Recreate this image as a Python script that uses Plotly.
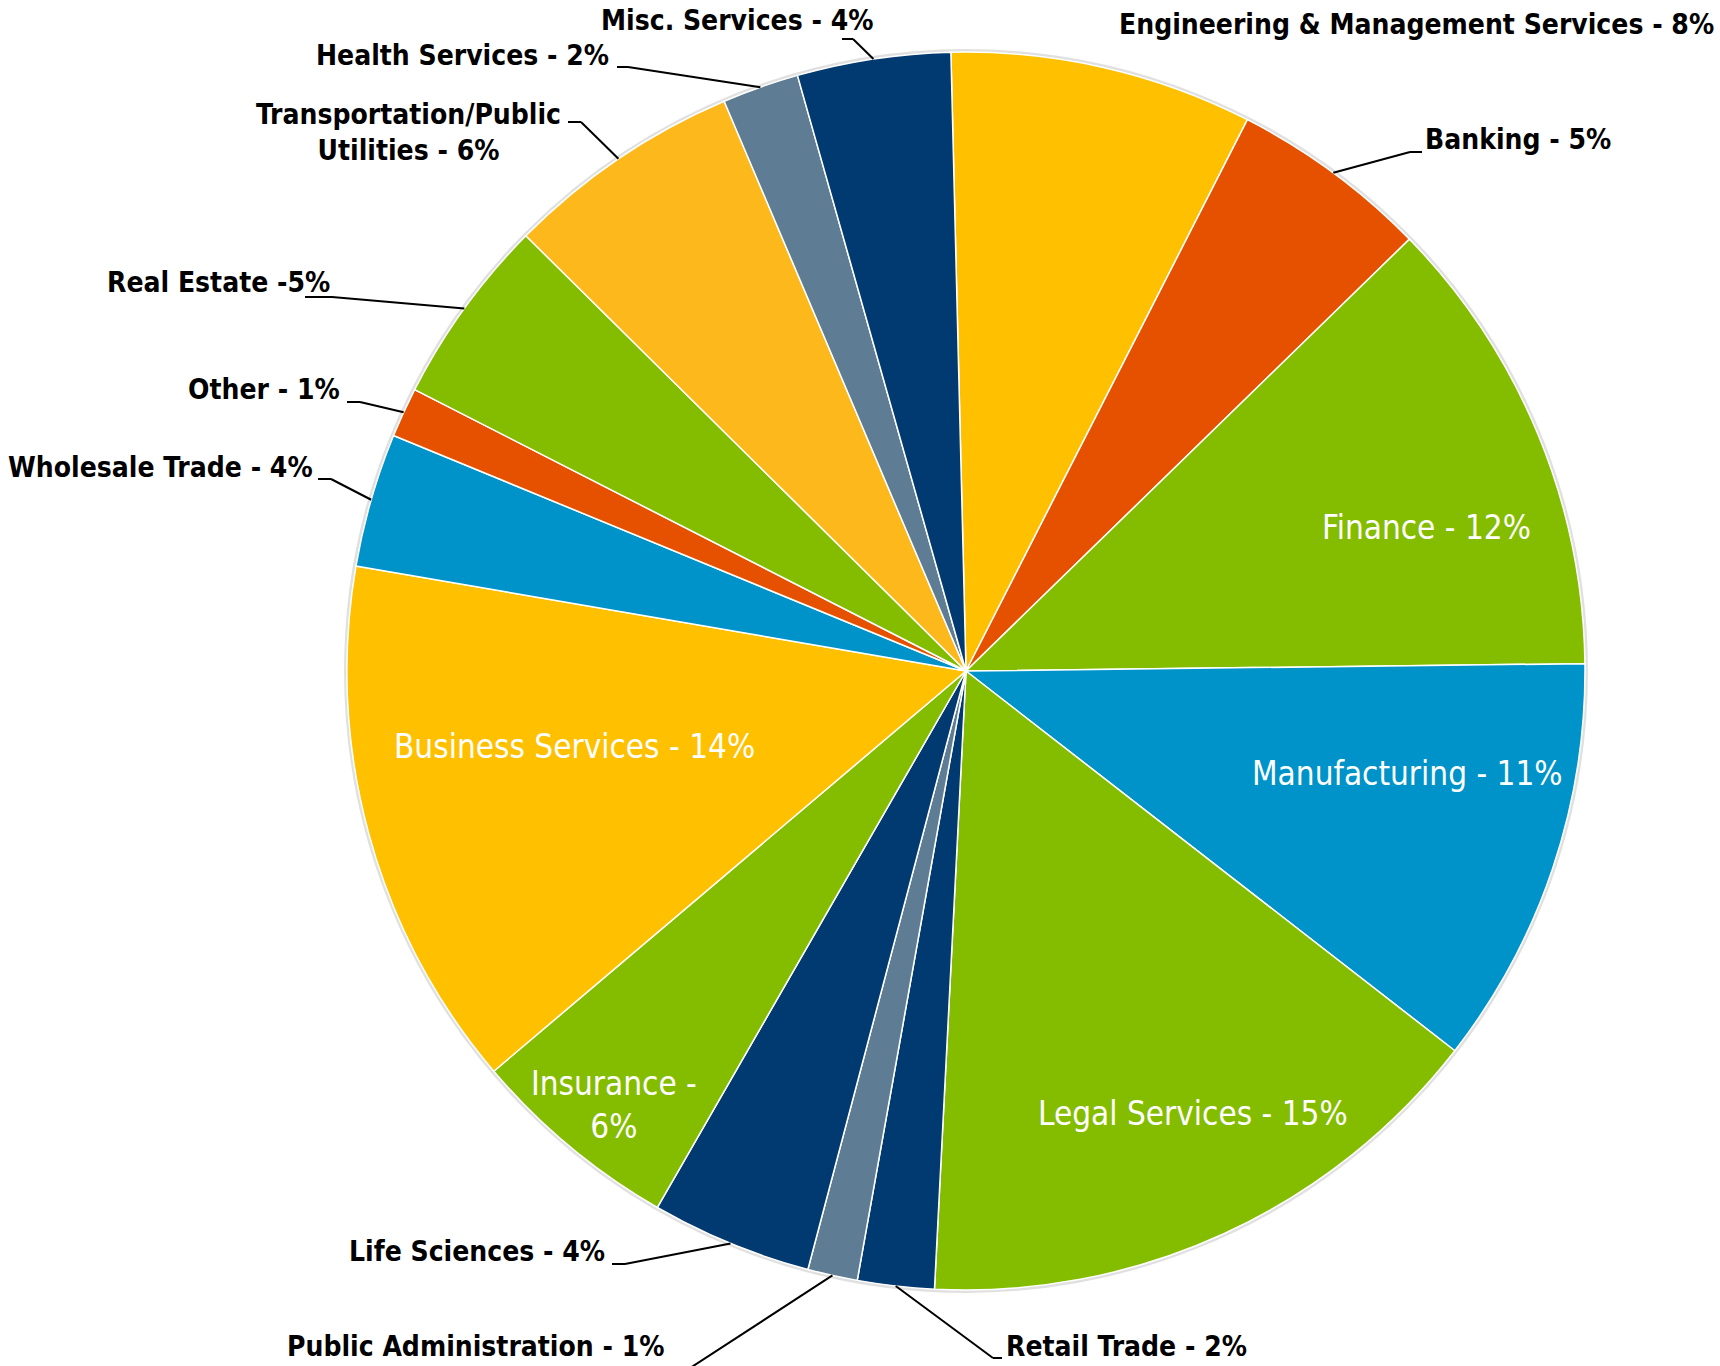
import math
import plotly.graph_objects as go

# ---------------- data ----------------
categories = [
    "Engineering & Management Services", "Banking", "Finance", "Manufacturing",
    "Legal Services", "Retail Trade", "Public Administration", "Life Sciences",
    "Insurance", "Business Services", "Wholesale Trade", "Other", "Real Estate",
    "Transportation/Public Utilities", "Health Services", "Misc. Services",
]
shares = [7.9, 5.2, 12.1, 10.7, 15.3, 2.0, 1.3, 4.2, 5.5, 13.9, 3.5, 1.3, 4.9, 6.2, 2.0, 4.0]
label_texts = [
    "Engineering & Management Services - 8%", "Banking - 5%", "Finance - 12%",
    "Manufacturing - 11%", "Legal Services - 15%", "Retail Trade - 2%",
    "Public Administration - 1%", "Life Sciences - 4%", "Insurance -<br>6%",
    "Business Services - 14%", "Wholesale Trade - 4%", "Other - 1%",
    "Real Estate -5%", "Transportation/Public<br>Utilities - 6%",
    "Health Services - 2%", "Misc. Services - 4%",
]

# ---------------- style ----------------
NAVY, SLATE, GREEN, BLUE, GOLD, ORANGE, AMBER = (
    "#003A70", "#5E7C94", "#84BD00", "#0093C9", "#FFC000", "#E65100", "#FDB81C")
colors = [GOLD, ORANGE, GREEN, BLUE, GREEN, NAVY, SLATE, NAVY, GREEN, GOLD,
          BLUE, ORANGE, GREEN, AMBER, SLATE, NAVY]

W, H = 1720, 1366
CX, CY, R = 966, 671, 619
ROTATION = -1.4

# label placement (pixels): mode, x, y, xanchor, leader elbow points (near label)
placement = [
    ("out", 1716, 24, "right", []),
    ("out", 1423, 140, "left", [(1410, 152), (1422, 152)]),
    ("in", 1426, 527, "center", []),
    ("in", 1407, 773, "center", []),
    ("in", 1193, 1113, "center", []),
    ("out", 1004, 1346, "left", [(993, 1358), (1002, 1358)]),
    ("out", 666, 1346, "right", [(684, 1372)]),
    ("out", 607, 1251, "right", [(625, 1264), (612, 1264)]),
    ("in", 614, 1105, "center", []),
    ("in", 574, 746, "center", []),
    ("out", 315, 467, "right", [(331, 479), (318, 479)]),
    ("out", 342, 389, "right", [(360, 402), (347, 402)]),
    ("out", 332, 282, "right", [(332, 297), (305, 297)]),
    ("out", 408, 132, "center", [(581, 122), (568, 122)]),
    ("out", 611, 55, "right", [(628, 67), (617, 67)]),
    ("out", 875, 20, "right", [(853, 39), (842, 39)]),
]

FONT = "DejaVu Sans Condensed, Liberation Sans Narrow, sans-serif"


def px(x, y):
    return x / W, 1 - y / H


fig = go.Figure(go.Pie(
    labels=categories,
    values=shares,
    sort=False,
    direction="clockwise",
    rotation=ROTATION,
    textinfo="none",
    hoverinfo="label+percent",
    marker=dict(colors=colors, line=dict(color="white", width=1.5)),
    domain=dict(x=[(CX - R) / W, (CX + R) / W], y=[1 - (CY + R) / H, 1 - (CY - R) / H]),
    showlegend=False,
))

shapes = []
annotations = []
# faint shadow ring
x0, y0 = px(CX - R - 1.5, CY + R + 1.5)
x1, y1 = px(CX + R + 1.5, CY - R - 1.5)
shapes.append(dict(type="circle", xref="paper", yref="paper", x0=x0, y0=y0, x1=x1, y1=y1,
                   line=dict(color="rgba(0,0,0,0.12)", width=3), layer="below"))

total = sum(shares)
cum = 0
for v, txt, (mode, tx, ty, anchor, elbow) in zip(shares, label_texts, placement):
    mid = math.radians(ROTATION + 360 * (cum + v / 2) / total)
    cum += v
    ex, ey = CX + R * math.sin(mid), CY - R * math.cos(mid)
    if mode == "in":
        annotations.append(dict(
            x=tx / W, y=1 - ty / H, xref="paper", yref="paper", text=txt,
            showarrow=False, xanchor="center", yanchor="middle", align="center",
            font=dict(family=FONT, size=33, color="white")))
    else:
        annotations.append(dict(
            x=tx / W, y=1 - ty / H, xref="paper", yref="paper", text=txt,
            showarrow=False, xanchor=anchor, yanchor="middle", align="center",
            font=dict(family=FONT, size=28, color="black", weight="bold")))
        pts = [(ex, ey)] + elbow
        for (ax, ay), (bx, by) in zip(pts[:-1], pts[1:]):
            a = px(ax, ay)
            b = px(bx, by)
            shapes.append(dict(type="line", xref="paper", yref="paper",
                               x0=a[0], y0=a[1], x1=b[0], y1=b[1],
                               line=dict(color="black", width=2)))

fig.update_layout(
    width=W, height=H,
    margin=dict(l=0, r=0, t=0, b=0),
    paper_bgcolor="white", plot_bgcolor="white",
    shapes=shapes, annotations=annotations,
)
fig.write_html("out.html")
